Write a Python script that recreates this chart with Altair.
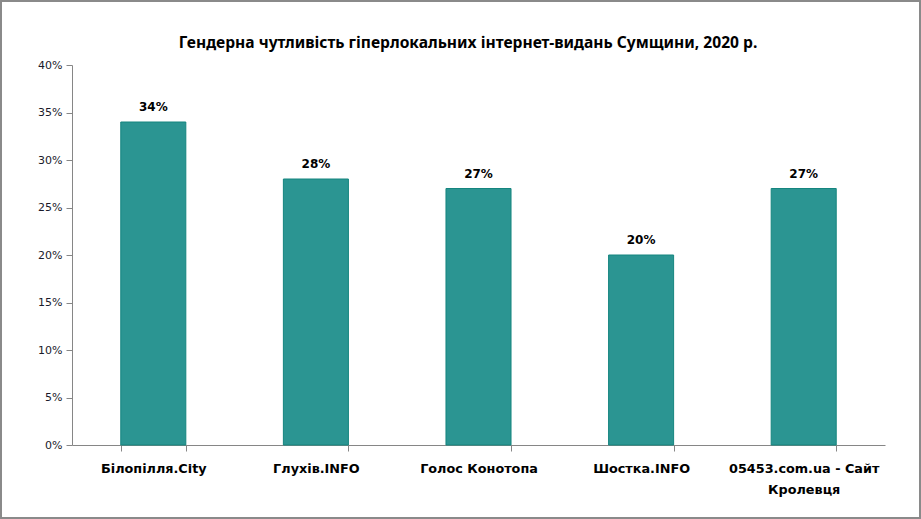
import altair as alt
import pandas as pd

title_text = "Гендерна чутливість гіперлокальних інтернет-видань Сумщини, 2020 р."
categories = ["Білопілля.City", "Глухів.INFO", "Голос Конотопа", "Шостка.INFO", "05453.com.ua - Сайт Кролевця"]
values = [0.34, 0.28, 0.27, 0.20, 0.27]
y_ticks = [0, 0.05, 0.10, 0.15, 0.20, 0.25, 0.30, 0.35, 0.40]

df = pd.DataFrame({"cat": categories, "val": values})

x_enc = alt.X("cat:N", sort=categories, title=None,
              scale=alt.Scale(paddingInner=0.6, paddingOuter=0.3),
              axis=alt.Axis(labelAngle=0, labelFont="DejaVu Sans", labelFontWeight="bold",
                            labelFontSize=12.8, labelColor="#000000", labelPadding=11,
                            labelLineHeight=21, labelLimit=300,
                            labelExpr="datum.label == '05453.com.ua - Сайт Кролевця' ? ['05453.com.ua - Сайт', 'Кролевця'] : datum.label",
                            domainColor="#868686", tickColor="#868686", tickSize=6,
                            tickBand="extent", grid=False))
y_enc = alt.Y("val:Q", title=None,
              scale=alt.Scale(domain=[0, 0.4], nice=False),
              axis=alt.Axis(values=y_ticks, format=".0%", labelFont="DejaVu Sans",
                            labelFontSize=11, labelColor="#1a1a2a", labelPadding=4,
                            domainColor="#868686", tickColor="#868686", tickSize=6,
                            grid=False))

base = alt.Chart(df)
bars = base.mark_bar(color="#2B9592", stroke="#15857F", strokeWidth=1).encode(x=x_enc, y=y_enc)
labels = base.mark_text(dy=-8, baseline="bottom", font="DejaVu Sans", fontWeight="bold",
                        fontSize=12, color="#000000").encode(
    x=alt.X("cat:N", sort=categories),
    y=alt.Y("val:Q"),
    text=alt.Text("val:Q", format=".0%"))
frame = alt.Chart(df).mark_rect(fill=None, stroke="#8a8a8a", strokeWidth=1.5).encode(
    x=alt.value(-71), x2=alt.value(848), y=alt.value(-64), y2=alt.value(453))
title = alt.Chart(pd.DataFrame({"t": [title_text]})).mark_text(
    font="Noto Sans", fontSize=15.6, fontWeight="bold", color="#000000",
    align="center", baseline="alphabetic").encode(
    x=alt.value(396), y=alt.value(-17), text="t:N")

chart = alt.layer(bars, labels, frame, title).properties(
    width=813, height=380,
    autosize=alt.AutoSizeParams(type="none"),
    padding={"left": 72, "top": 65, "right": 36, "bottom": 74},
).configure(background="white").configure_view(strokeWidth=0, stroke="transparent")

chart.save("out.html", embed_options={"renderer": "svg", "actions": False})
